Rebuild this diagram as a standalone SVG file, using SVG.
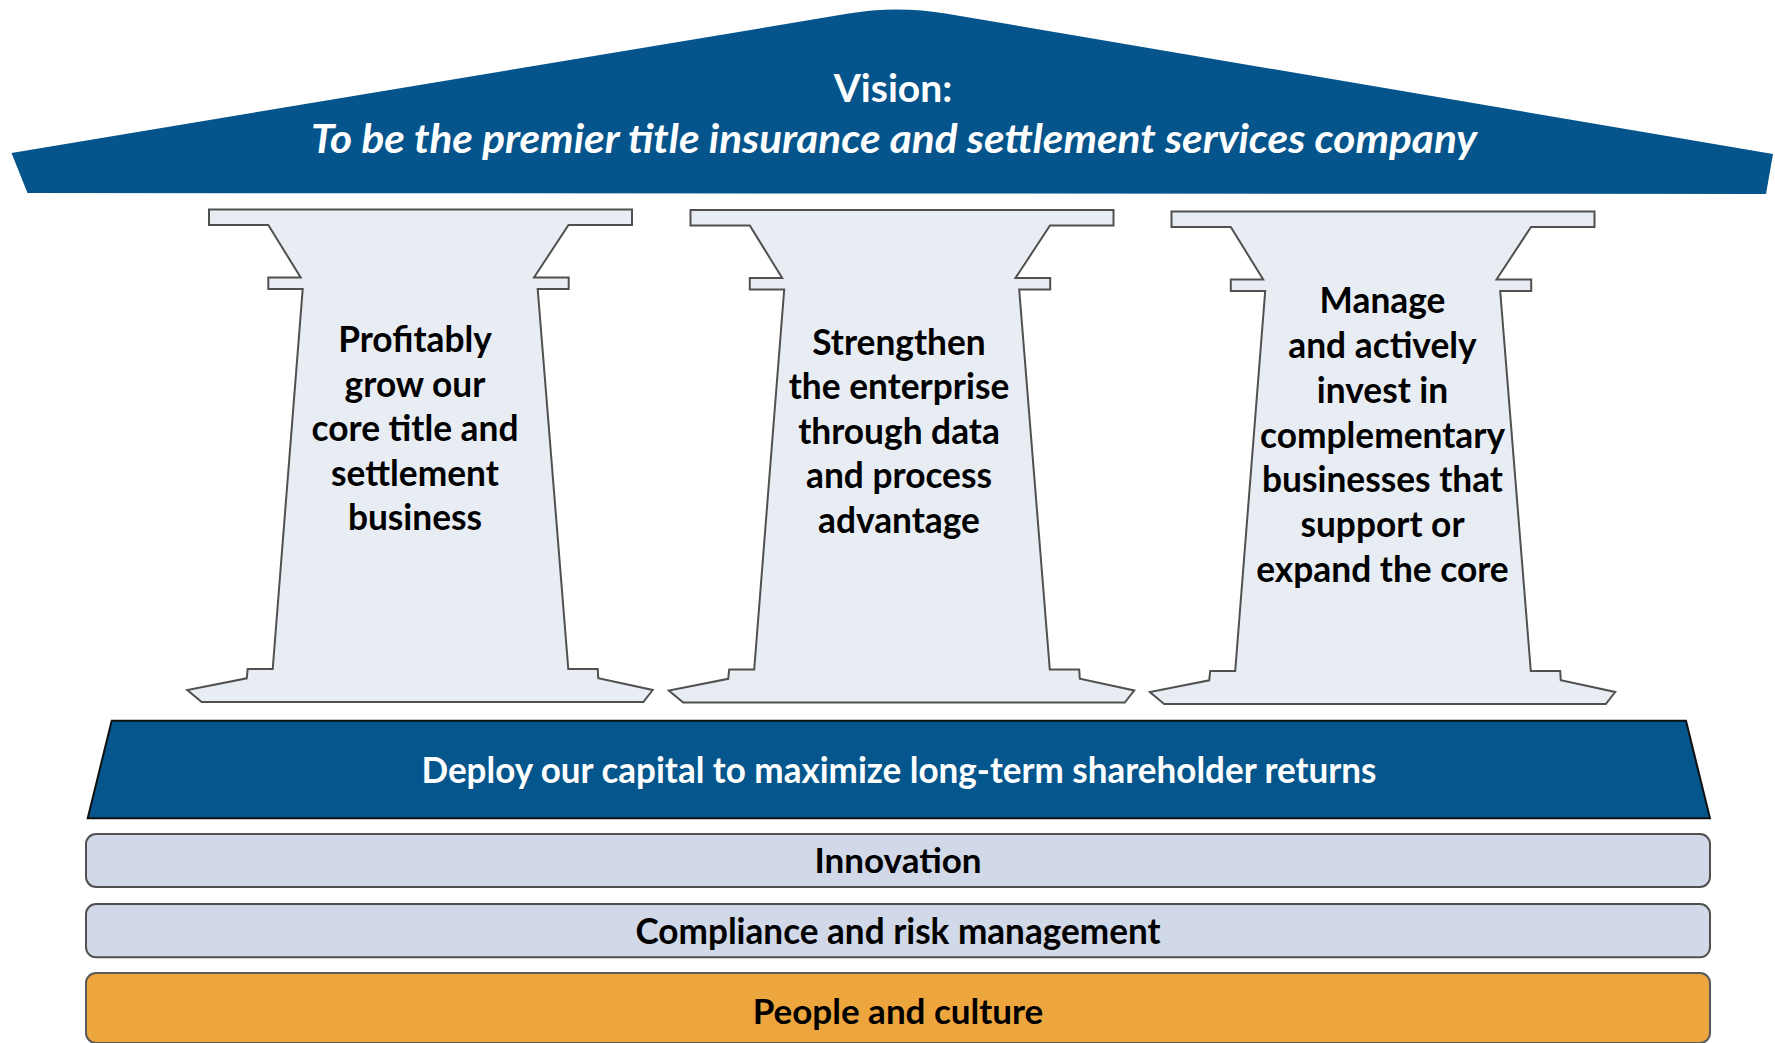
<svg xmlns="http://www.w3.org/2000/svg" width="1775" height="1043" viewBox="0 0 1775 1043">
<defs>
<style>
.t{font-family:Lato,"Open Sans","Liberation Sans",sans-serif;font-weight:bold;text-anchor:middle}
.w{fill:#ffffff}
.k{fill:#000000}
.pil{fill:#E8EDF4;stroke:#505050;stroke-width:2;stroke-linejoin:miter}
.bar{fill:#D1D8E7;stroke:#505050;stroke-width:2}
</style>
<path id="pillar" d="M209,209.5 H632 V225 H568.5 L534,277.5 H568.7 V289 H537.7 L568.3,669 H597.7 L598.3,678.3 L652.7,690 L643.3,702 H201.7 L187.3,690 L246.7,678.3 L247.7,669 H272.7 L302.7,289 H268.3 V277.5 H300.7 L268.3,225 H209 Z"/>
</defs>
<rect width="1775" height="1043" fill="#ffffff"/>
<g id="roof">
<path d="M11.5,153 L847,13.8 Q897,5 947,13.8 L1773,154 L1766,194 L27.5,193 Z" fill="#05558C"/>
<text class="t w" x="893" y="102" font-size="39">Vision:</text>
<text class="t w" x="894" y="153" font-size="40" font-style="italic" textLength="1166" lengthAdjust="spacingAndGlyphs">To be the premier title insurance and settlement services company</text>
</g>
<g id="pillar1">
<use href="#pillar" class="pil"/>
<text class="t k" font-size="35.3"><tspan x="415" y="352">Profitably</tspan><tspan x="415" y="396.5">grow our</tspan><tspan x="415" y="441">core title and</tspan><tspan x="415" y="485.5">settlement</tspan><tspan x="415" y="530">business</tspan></text>
</g>
<g id="pillar2">
<use href="#pillar" class="pil" transform="translate(481.5,0.5)"/>
<text class="t k" font-size="35.3"><tspan x="899" y="354.5">Strengthen</tspan><tspan x="899" y="399">the enterprise</tspan><tspan x="899" y="443.5">through data</tspan><tspan x="899" y="488">and process</tspan><tspan x="899" y="532.5">advantage</tspan></text>
</g>
<g id="pillar3">
<use href="#pillar" class="pil" transform="translate(962.5,2)"/>
<text class="t k" font-size="35.3"><tspan x="1382.5" y="313">Manage</tspan><tspan x="1382.5" y="358">and actively</tspan><tspan x="1382.5" y="403">invest in</tspan><tspan x="1382.5" y="447.5">complementary</tspan><tspan x="1382.5" y="492">businesses that</tspan><tspan x="1382.5" y="537">support or</tspan><tspan x="1382.5" y="582">expand the core</tspan></text>
</g>
<g id="deploy">
<path d="M111.7,720.7 H1686 L1710,818.3 H87.7 Z" fill="#04568C" stroke="#111111" stroke-width="2"/>
<text class="t w" x="899" y="783" font-size="37" textLength="955" lengthAdjust="spacingAndGlyphs">Deploy our capital to maximize long-term shareholder returns</text>
</g>
<g id="innovation">
<rect class="bar" x="86" y="834" width="1624" height="53" rx="10"/>
<text class="t k" x="898" y="873" font-size="35">Innovation</text>
</g>
<g id="compliance">
<rect class="bar" x="86" y="904" width="1624" height="53.3" rx="10"/>
<text class="t k" x="898" y="944" font-size="36" textLength="525" lengthAdjust="spacingAndGlyphs">Compliance and risk management</text>
</g>
<g id="people">
<rect x="86" y="973" width="1624" height="70" rx="10" fill="#EDA53D" stroke="#5a5a5a" stroke-width="2"/>
<text class="t k" x="898" y="1023.5" font-size="35">People and culture</text>
</g>
<g id="connectors"/>
</svg>
